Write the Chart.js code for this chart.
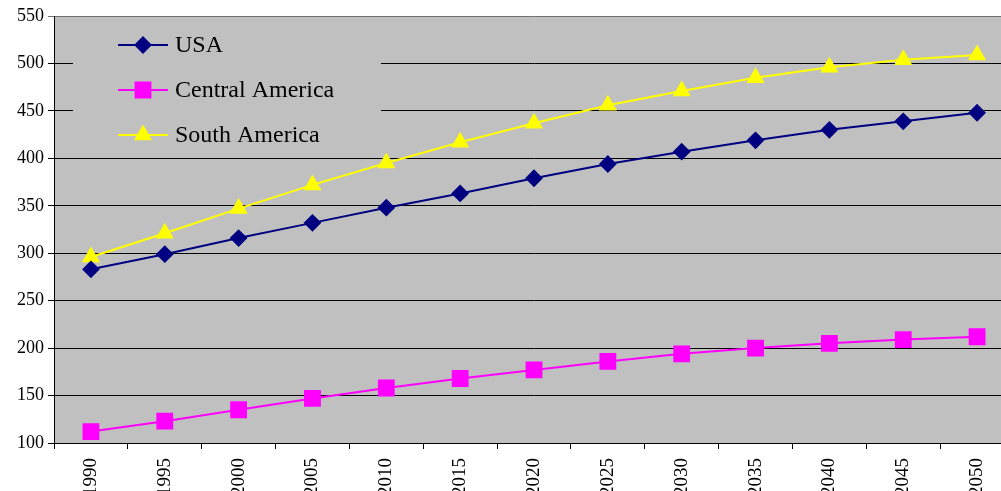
<!DOCTYPE html>
<html>
<head>
<meta charset="utf-8">
<script src="https://cdn.jsdelivr.net/npm/chart.js@4"></script>
<style>
  html, body { margin: 0; padding: 0; background: #fff; overflow: hidden; }
  #wrap { width: 1001px; height: 491px; overflow: hidden; }
</style>
</head>
<body>
<!-- the original plot runs past the right edge of the picture, so the canvas is a bit wider and cropped -->
<div id="wrap"><canvas id="chart" width="1014" height="491"></canvas></div>
<script>
const years = ['1990', '1995', '2000', '2005', '2010', '2015', '2020', '2025', '2030', '2035', '2040', '2045', '2050'];
const usa = [283, 299, 316, 332, 348, 363, 379, 394, 407, 419, 430, 439, 448];
const centralAmerica = [112, 123, 135, 147, 158, 168, 177, 186, 194, 200, 205, 209, 212];
const southAmerica = [296, 321, 347, 372, 395, 417, 437, 456, 471, 485, 496, 504, 509];
const yTicks = [100, 150, 200, 250, 300, 350, 400, 450, 500, 550];

const serif = '"Liberation Serif", "Times New Roman", serif';

// gray plot background
const plotBg = {
    id: 'plotBg',
    beforeDraw(chart) {
        const { ctx, chartArea: a } = chart;
        ctx.save();
        ctx.fillStyle = '#C0C0C0';
        ctx.fillRect(a.left, a.top, a.right - a.left, a.bottom - a.top);
        ctx.restore();
    }
};

// legend box inside the plot, like the spreadsheet one
const innerLegend = {
    id: 'innerLegend',
    afterDatasetsDraw(chart) {
        const ctx = chart.ctx;
        const a = chart.chartArea;
        const x0 = a.left + 19, y0 = a.top + 6, w = 308, h = 130;
        ctx.save();
        ctx.fillStyle = '#C0C0C0';
        ctx.fillRect(x0, y0, w, h);
        chart.data.datasets.forEach((ds, i) => {
            const y = 45 + i * 45;
            ctx.strokeStyle = ds.borderColor;
            ctx.lineWidth = 2;
            ctx.beginPath();
            ctx.moveTo(118, y);
            ctx.lineTo(168, y);
            ctx.stroke();
            ctx.fillStyle = ds.pointBackgroundColor;
            ctx.strokeStyle = ds.pointBorderColor;
            Chart.helpers.drawPoint(ctx, {
                pointStyle: ds.pointStyle,
                radius: ds.pointRadius,
                borderWidth: 1
            }, 143, y);
            ctx.fillStyle = '#000';
            ctx.font = '24px ' + serif;
            ctx.textBaseline = 'middle';
            ctx.fillText(ds.label, 175, y + 1);
        });
        ctx.restore();
    }
};

function series(label, data, color, style, r) {
    return {
        label: label,
        data: data,
        borderColor: color,
        backgroundColor: color,
        pointBackgroundColor: color,
        pointBorderColor: color,
        pointStyle: style,
        pointRadius: r,
        pointHoverRadius: r,
        borderWidth: 2,
        tension: 0
    };
}

new Chart(document.getElementById('chart').getContext('2d'), {
    type: 'line',
    data: {
        labels: years,
        datasets: [
            series('USA', usa, '#000080', 'rectRot', 7.5),
            series('Central America', centralAmerica, '#FF00FF', 'rect', 10.5),
            series('South America', southAmerica, '#FFFF00', 'triangle', 8.5)
        ]
    },
    options: {
        responsive: false,
        animation: false,
        layout: { autoPadding: false, padding: { top: 16, right: 0, left: 0, bottom: 0 } },
        plugins: {
            legend: { display: false },
            tooltip: { enabled: false }
        },
        scales: {
            x: {
                offset: true,
                grid: {
                    offset: true,
                    drawOnChartArea: false,
                    drawTicks: true,
                    tickLength: 6,
                    color: '#000'
                },
                border: { color: '#000', width: 1 },
                ticks: {
                    color: '#000',
                    font: { family: serif, size: 19 },
                    minRotation: 90,
                    maxRotation: 90,
                    padding: 9
                },
                afterFit(s) {
                    s.height = 48;
                    s.paddingLeft = 0;
                    s.paddingRight = 0;
                }
            },
            y: {
                min: 100,
                max: 550,
                afterBuildTicks(s) { s.ticks = yTicks.map(v => ({ value: v })); },
                grid: {
                    color: ctx => (ctx.tick && ctx.tick.value === 550 ? '#707070' : '#000'),
                    tickLength: 6,
                    drawTicks: true
                },
                border: { color: '#000', width: 1 },
                ticks: {
                    color: '#000',
                    font: { family: serif, size: 18 },
                    padding: 4
                },
                afterFit(s) { s.width = 54; }
            }
        }
    },
    plugins: [plotBg, innerLegend]
});
</script>
</body>
</html>
